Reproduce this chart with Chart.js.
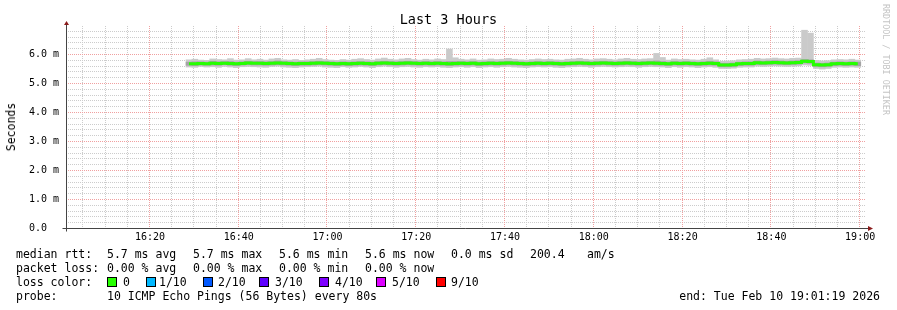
<!DOCTYPE html>
<html><head><meta charset="utf-8">
<script src="https://cdn.jsdelivr.net/npm/chart.js@4/dist/chart.umd.min.js"></script>
<style>
html,body{margin:0;padding:0;background:#fff;}
#wrap{position:relative;width:897px;height:310px;overflow:hidden;font-family:"DejaVu Sans Mono",monospace;color:#000;background:#fff;}
canvas{position:absolute;left:0;top:0;}
.t{position:absolute;white-space:pre;font-size:11.5px;line-height:14px;}
.box{position:absolute;width:8px;height:8px;border:1px solid #000;}
#title{position:absolute;left:0;width:897px;top:11px;text-align:center;font-size:13.5px;line-height:16px;white-space:pre;}
#ytitle{position:absolute;left:11px;top:127px;font-size:11.5px;line-height:14px;white-space:pre;transform:translate(-50%,-50%) rotate(-90deg);}
#credit{position:absolute;left:881px;top:4px;font-size:8.4px;line-height:10px;color:#c4c4c4;writing-mode:vertical-rl;white-space:pre;}
</style></head><body>
<div id="wrap">
<canvas id="c" width="897" height="310"></canvas>
<div id="title">Last 3 Hours</div>
<div id="ytitle">Seconds</div>
<div id="credit">RRDTOOL / TOBI OETIKER</div>

<div class="t" style="left:16px;top:247px">median rtt:</div>
<div class="t" style="left:107px;top:247px">5.7 ms avg</div>
<div class="t" style="left:193px;top:247px">5.7 ms max</div>
<div class="t" style="left:279px;top:247px">5.6 ms min</div>
<div class="t" style="left:365px;top:247px">5.6 ms now</div>
<div class="t" style="left:451px;top:247px">0.0 ms sd</div>
<div class="t" style="left:530px;top:247px">200.4</div>
<div class="t" style="left:587px;top:247px">am/s</div>

<div class="t" style="left:16px;top:261px">packet loss:</div>
<div class="t" style="left:107px;top:261px">0.00 % avg</div>
<div class="t" style="left:193px;top:261px">0.00 % max</div>
<div class="t" style="left:279px;top:261px">0.00 % min</div>
<div class="t" style="left:365px;top:261px">0.00 % now</div>

<div class="t" style="left:16px;top:275px">loss color:</div>
<div class="box" style="left:107px;top:277px;background:#26ff00"></div><div class="t" style="left:123px;top:275px">0</div>
<div class="box" style="left:146px;top:277px;background:#00b8ff"></div><div class="t" style="left:159px;top:275px">1/10</div>
<div class="box" style="left:203px;top:277px;background:#0059ff"></div><div class="t" style="left:218px;top:275px">2/10</div>
<div class="box" style="left:259px;top:277px;background:#5e00ff"></div><div class="t" style="left:275px;top:275px">3/10</div>
<div class="box" style="left:319px;top:277px;background:#7e00ff"></div><div class="t" style="left:335px;top:275px">4/10</div>
<div class="box" style="left:376px;top:277px;background:#dd00ff"></div><div class="t" style="left:392px;top:275px">5/10</div>
<div class="box" style="left:436px;top:277px;background:#ff0000"></div><div class="t" style="left:451px;top:275px">9/10</div>

<div class="t" style="left:16px;top:289px">probe:</div>
<div class="t" style="left:107px;top:289px">10 ICMP Echo Pings (56 Bytes) every 80s</div>
<div class="t" style="right:17px;top:289px">end: Tue Feb 10 19:01:19 2026</div>
</div>
<script>
// time axis in minutes since midnight
const rangeStart = 16*60 + 1 + 19/60;   // 16:01:19
const rangeEnd = 19*60 + 1 + 19/60;     // 19:01:19
const firstSample = 16*60 + 28.8;       // first measurement
const sampleStep = 80/60;               // every 80 s
const xTickMinutes = [980, 1000, 1020, 1040, 1060, 1080, 1100, 1120, 1140];
const yTickValues = [0, 1, 2, 3, 4, 5, 6];

// median round trip time (ms)
const medianRtt = [
5.66,5.66,5.67,5.66,5.68,5.67,5.68,5.67,5.66,5.67,
5.69,5.68,5.68,5.67,5.68,5.69,5.68,5.67,5.66,5.67,
5.67,5.68,5.69,5.68,5.67,5.66,5.67,5.66,5.67,5.68,
5.67,5.66,5.68,5.69,5.68,5.67,5.68,5.69,5.68,5.67,
5.68,5.67,5.68,5.67,5.66,5.67,5.68,5.67,5.68,5.66,
5.67,5.68,5.67,5.68,5.69,5.68,5.67,5.66,5.67,5.68,
5.67,5.68,5.67,5.66,5.67,5.68,5.69,5.68,5.67,5.68,
5.69,5.68,5.67,5.68,5.69,5.68,5.67,5.68,5.69,5.68,
5.67,5.66,5.68,5.67,5.68,5.67,5.66,5.67,5.68,5.67,
5.62,5.62,5.63,5.66,5.67,5.67,5.70,5.69,5.70,5.71,
5.70,5.69,5.70,5.71,5.75,5.74,5.63,5.62,5.63,5.66,
5.67,5.66,5.67,5.66];

// smoke: spread of the individual pings (ms)
const smokeOuterHigh = [
5.80,5.82,5.79,5.78,5.83,5.81,5.80,5.84,5.79,5.80,
5.84,5.80,5.82,5.79,5.83,5.85,5.80,5.79,5.81,5.78,
5.80,5.82,5.85,5.81,5.79,5.78,5.81,5.79,5.82,5.84,
5.81,5.79,5.83,5.86,5.82,5.80,5.83,5.85,5.81,5.79,
5.82,5.80,5.83,5.81,6.17,5.87,5.82,5.80,5.83,5.79,
5.80,5.83,5.81,5.82,5.85,5.82,5.80,5.79,5.81,5.83,
5.81,5.82,5.80,5.79,5.82,5.83,5.85,5.82,5.80,5.83,
5.84,5.82,5.80,5.83,5.85,5.82,5.81,5.83,5.84,6.02,
5.88,5.79,5.83,5.81,5.82,5.80,5.79,5.82,5.87,5.80,
5.75,5.76,5.77,5.80,5.81,5.82,5.85,5.83,5.84,5.86,
5.84,5.83,5.85,5.86,6.82,6.72,5.78,5.76,5.77,5.80,
5.81,5.80,5.82,5.79];
const smokeOuterLow = [
5.55,5.54,5.57,5.55,5.56,5.54,5.57,5.55,5.53,5.56,
5.57,5.56,5.55,5.54,5.57,5.58,5.55,5.54,5.53,5.55,
5.56,5.57,5.58,5.55,5.54,5.53,5.56,5.54,5.55,5.57,
5.55,5.53,5.56,5.58,5.56,5.54,5.56,5.57,5.55,5.54,
5.56,5.55,5.56,5.54,5.53,5.55,5.56,5.54,5.56,5.53,
5.55,5.56,5.54,5.56,5.57,5.55,5.54,5.53,5.55,5.56,
5.55,5.56,5.54,5.53,5.55,5.56,5.57,5.56,5.54,5.56,
5.57,5.56,5.55,5.56,5.57,5.56,5.54,5.56,5.57,5.56,
5.55,5.53,5.56,5.54,5.56,5.55,5.53,5.55,5.56,5.54,
5.50,5.50,5.51,5.54,5.55,5.55,5.58,5.57,5.58,5.59,
5.58,5.57,5.58,5.59,5.62,5.61,5.50,5.48,5.50,5.54,
5.55,5.54,5.55,5.54];
const smokeInnerHigh = [
5.72,5.73,5.73,5.72,5.75,5.73,5.74,5.74,5.72,5.73,
5.75,5.74,5.74,5.73,5.74,5.76,5.74,5.73,5.72,5.73,
5.73,5.74,5.75,5.74,5.73,5.72,5.73,5.72,5.73,5.74,
5.73,5.72,5.74,5.75,5.74,5.73,5.74,5.75,5.74,5.73,
5.74,5.73,5.74,5.73,5.74,5.74,5.74,5.73,5.74,5.72,
5.73,5.74,5.73,5.74,5.75,5.74,5.73,5.72,5.73,5.74,
5.73,5.74,5.73,5.72,5.73,5.74,5.75,5.74,5.73,5.74,
5.75,5.74,5.73,5.74,5.75,5.74,5.73,5.74,5.75,5.76,
5.74,5.72,5.74,5.73,5.74,5.73,5.72,5.73,5.75,5.73,
5.68,5.68,5.69,5.72,5.73,5.73,5.76,5.75,5.76,5.77,
5.76,5.75,5.76,5.77,5.81,5.80,5.69,5.68,5.69,5.72,
5.73,5.72,5.73,5.72];
const smokeInnerLow = [
5.61,5.60,5.62,5.61,5.62,5.61,5.63,5.61,5.60,5.62,
5.63,5.62,5.62,5.61,5.62,5.63,5.62,5.61,5.60,5.61,
5.61,5.62,5.63,5.62,5.61,5.60,5.61,5.60,5.61,5.62,
5.61,5.60,5.62,5.63,5.62,5.61,5.62,5.63,5.62,5.61,
5.62,5.61,5.62,5.61,5.60,5.61,5.62,5.61,5.62,5.60,
5.61,5.62,5.61,5.62,5.63,5.62,5.61,5.60,5.61,5.62,
5.61,5.62,5.61,5.60,5.61,5.62,5.63,5.62,5.61,5.62,
5.63,5.62,5.61,5.62,5.63,5.62,5.61,5.62,5.63,5.62,
5.61,5.60,5.62,5.61,5.62,5.61,5.60,5.61,5.62,5.61,
5.56,5.56,5.57,5.60,5.61,5.61,5.64,5.63,5.64,5.65,
5.64,5.63,5.64,5.65,5.69,5.68,5.57,5.56,5.57,5.60,
5.61,5.60,5.61,5.60];

const times = medianRtt.map((_, i) => firstSample + i * sampleStep);

// grid positions
const minorX = [];
for (let m = 965; m <= 1140; m += 5) if (m % 20 !== 0) minorX.push(m);
const minorY = [];
for (let k = 1; k < 35; k++) if (k % 5 !== 0) minorY.push(k / 5);

const fmtTime = v => {
  const h = Math.floor(v / 60), m = Math.round(v - h * 60);
  return String(h).padStart(2, '0') + ':' + String(m).padStart(2, '0');
};

const MONO = '"DejaVu Sans Mono", monospace';
const MAJOR = '#f0a0a0';
const MINOR = '#cccccc';

// dotted rrdtool-style grid, positioned through the chart scales
const gridPlugin = {
  id: 'rrdgrid',
  beforeDraw(chart) {
    const ctx = chart.ctx;
    ctx.save(); ctx.fillStyle = '#fff'; ctx.fillRect(0, 0, chart.width, chart.height); ctx.restore();
  },
  beforeDatasetsDraw(chart) {
    const ctx = chart.ctx, a = chart.chartArea, xs = chart.scales.x, ys = chart.scales.y;
    const L = Math.round(a.left), R = Math.round(a.right), T = Math.round(a.top), B = Math.round(a.bottom);
    const vline = (v, col) => {
      const px = Math.round(xs.getPixelForValue(v)) - 1;
      ctx.fillStyle = col;
      for (let y = B - 2; y >= T; y -= 2) ctx.fillRect(px, y, 1, 1);
    };
    const hline = (v, col) => {
      const py = Math.round(ys.getPixelForValue(v));
      ctx.fillStyle = col;
      for (let x = L + 1; x < R; x += 2) ctx.fillRect(x, py, 1, 1);
    };
    ctx.save();
    minorX.forEach(v => vline(v, MINOR));
    minorY.forEach(v => hline(v, MINOR));
    xTickMinutes.forEach(v => vline(v, MAJOR));
    yTickValues.filter(v => v > 0).forEach(v => hline(v, MAJOR));
    ctx.restore();
  },
  afterDatasetsDraw(chart) {
    const ctx = chart.ctx, a = chart.chartArea;
    const x0 = Math.round(a.left) - 0.5, y0 = Math.round(a.bottom) + 0.5;
    ctx.save();
    ctx.strokeStyle = '#444'; ctx.lineWidth = 1;
    ctx.beginPath();
    ctx.moveTo(x0, y0 + 3); ctx.lineTo(x0, a.top - 3);
    ctx.moveTo(x0 - 4, y0); ctx.lineTo(a.right + 3, y0);
    ctx.stroke();
    ctx.fillStyle = '#8b1c1c';
    ctx.beginPath();
    ctx.moveTo(x0, a.top - 4); ctx.lineTo(x0 - 2.5, a.top); ctx.lineTo(x0 + 2.5, a.top); ctx.closePath(); ctx.fill();
    ctx.beginPath();
    ctx.moveTo(a.right + 7, y0); ctx.lineTo(a.right + 2, y0 - 2.5); ctx.lineTo(a.right + 2, y0 + 2.5); ctx.closePath(); ctx.fill();
    ctx.restore();
  }
};

new Chart(document.getElementById('c'), {
  type: 'bar',
  data: {
    datasets: [
      { type: 'line', label: 'median', data: times.map((t, i) => ({ x: t, y: medianRtt[i] })),
        borderColor: '#26ff00', borderWidth: 3, pointRadius: 0, stepped: 'middle', fill: false, order: 1 },
      { type: 'bar', label: 'inner', data: times.map((t, i) => ({ x: t, y: [smokeInnerLow[i], smokeInnerHigh[i]] })),
        backgroundColor: '#a4a4a4', borderWidth: 0, barPercentage: 1, categoryPercentage: 1, grouped: false, order: 2 },
      { type: 'bar', label: 'outer', data: times.map((t, i) => ({ x: t, y: [smokeOuterLow[i], smokeOuterHigh[i]] })),
        backgroundColor: '#cacaca', borderWidth: 0, barPercentage: 1, categoryPercentage: 1, grouped: false, order: 3 }
    ]
  },
  options: {
    responsive: false, animation: false, devicePixelRatio: 1,
    layout: { padding: { left: 29, right: 31, top: 25, bottom: 62 } },
    plugins: { legend: { display: false }, tooltip: { enabled: false }, title: { display: false } },
    scales: {
      x: {
        type: 'linear', position: 'bottom', min: rangeStart, max: rangeEnd, offset: false,
        afterBuildTicks: s => { s.ticks = xTickMinutes.map(v => ({ value: v })); },
        ticks: { callback: v => fmtTime(v), color: '#000', font: { family: MONO, size: 10 }, padding: 3, maxRotation: 0, autoSkip: false },
        grid: { display: false, drawTicks: false, offset: false },
        border: { display: false },
        afterFit: s => { s.height = 20; }
      },
      y: {
        type: 'linear', position: 'left', min: 0, max: 7,
        afterBuildTicks: s => { s.ticks = yTickValues.map(v => ({ value: v })); },
        ticks: { callback: v => v === 0 ? '0.0' : v.toFixed(1) + ' m', color: '#000', font: { family: MONO, size: 10 }, crossAlign: 'far' },
        grid: { display: false, drawTicks: false },
        border: { display: false },
        afterFit: s => { s.width = 38; }
      }
    }
  },
  plugins: [gridPlugin]
});
</script>
</body></html>
